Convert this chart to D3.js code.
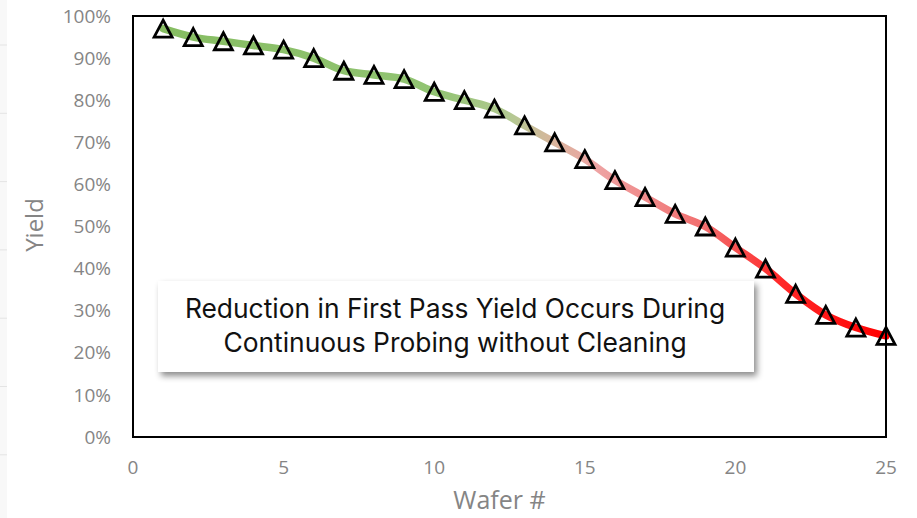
<!DOCTYPE html>
<html lang="en">
  <head>
    <meta charset="utf-8">
    <title>Yield vs Wafer</title>
    <script type="text/javascript" src="https://cdn.jsdelivr.net/npm/d3@7"></script>
    <style>
      body { margin: 0; background: #fff; }
    </style>
  </head>
  <body>
    <script type="text/javascript">
    // data
    var wafers = d3.range(1, 26);
    var yieldPct = [97, 95, 94, 93, 92, 90, 87, 86, 85, 82, 80, 78, 74, 70,
                    66, 61, 57, 53, 50, 45, 40, 34, 29, 26, 24];
    var xTicks = [0, 5, 10, 15, 20, 25];
    var yTicks = [0, 10, 20, 30, 40, 50, 60, 70, 80, 90, 100];
    var noteLines = ["Reduction in First Pass Yield Occurs During",
                     "Continuous Probing without Cleaning"];

    var dataset = wafers.map(function(w, i) {
      return { wafer: w, yield: yieldPct[i] };
    });

    var w = 917;
    var h = 518;

    // plot area (don't call it "top", window.top is read-only)
    var plotLeft = 133, plotRight = 886, plotTop = 16, plotBottom = 437;

    var svg = d3.select("body")
                .append("svg")
                .attr("width", w)
                .attr("height", h);

    var defs = svg.append("defs");

    // faint strip at the far left (edge of the neighbouring sheet)
    svg.append("rect")
       .attr("x", 0).attr("y", 0)
       .attr("width", 7).attr("height", h)
       .attr("fill", "#f8f8f8");
    svg.selectAll("line.edge")
       .data(d3.range(45, 460, 68.3))
       .enter()
       .append("line")
       .attr("class", "edge")
       .attr("x1", 0).attr("x2", 7)
       .attr("y1", function(d) { return d; })
       .attr("y2", function(d) { return d; })
       .attr("stroke", "#e4e4e4");

    var xScale = d3.scaleLinear()
                   .domain([0, 25])
                   .range([plotLeft, plotRight]);
    var yScale = d3.scaleLinear()
                   .domain([0, 100])
                   .range([plotBottom, plotTop]);

    // y tick labels
    svg.selectAll("text.ytick")
       .data(yTicks)
       .enter()
       .append("text")
       .attr("class", "ytick")
       .attr("x", plotLeft - 22)
       .attr("y", function(d) { return yScale(d); })
       .attr("dy", "0.35em")
       .attr("text-anchor", "end")
       .attr("font-family", "'Open Sans', sans-serif")
       .attr("font-size", 19)
       .attr("fill", "#858585")
       .text(function(d) { return d + "%"; });

    // x tick labels
    svg.selectAll("text.xtick")
       .data(xTicks)
       .enter()
       .append("text")
       .attr("class", "xtick")
       .attr("x", function(d) { return xScale(d); })
       .attr("y", plotBottom + 30)
       .attr("dy", "0.35em")
       .attr("text-anchor", "middle")
       .attr("font-family", "'Open Sans', sans-serif")
       .attr("font-size", 19)
       .attr("fill", "#858585")
       .text(function(d) { return d; });

    // axis titles
    svg.append("text")
       .attr("x", (plotLeft + plotRight) / 2 - 10)
       .attr("y", 500)
       .attr("dy", "0.35em")
       .attr("text-anchor", "middle")
       .attr("font-family", "'Open Sans', sans-serif")
       .attr("font-size", 25)
       .attr("fill", "#858585")
       .text("Wafer #");

    svg.append("text")
       .attr("transform", "translate(35,225) rotate(-90)")
       .attr("dy", "0.35em")
       .attr("text-anchor", "middle")
       .attr("font-family", "'Open Sans', sans-serif")
       .attr("font-size", 24)
       .attr("fill", "#858585")
       .text("Yield");

    // gradient for the line: green -> pink -> red
    var grad = defs.append("linearGradient")
                   .attr("id", "lineGrad")
                   .attr("gradientUnits", "userSpaceOnUse")
                   .attr("x1", xScale(1)).attr("y1", 0)
                   .attr("x2", xScale(25)).attr("y2", 0);
    [[0, "#86bd62"], [0.38, "#92c473"], [0.48, "#b3c992"], [0.54, "#d8b59d"],
     [0.6, "#eea3a3"], [0.75, "#f26d6d"], [0.85, "#ff2a2a"], [1, "#ff0000"]]
      .forEach(function(s) {
        grad.append("stop").attr("offset", s[0]).attr("stop-color", s[1]);
      });

    var line = d3.line()
                 .x(function(d) { return xScale(d.wafer); })
                 .y(function(d) { return yScale(d.yield); })
                 .curve(d3.curveCatmullRom.alpha(0.5));

    svg.append("path")
       .datum(dataset)
       .attr("d", line)
       .attr("fill", "none")
       .attr("stroke", "url(#lineGrad)")
       .attr("stroke-width", 7.5)
       .attr("stroke-linecap", "round");

    // plot frame
    svg.append("rect")
       .attr("x", plotLeft).attr("y", plotTop)
       .attr("width", plotRight - plotLeft).attr("height", plotBottom - plotTop)
       .attr("fill", "none")
       .attr("stroke", "#000")
       .attr("stroke-width", 2);

    // triangle markers, centred on the data point
    var triW = 18, triH = 17;
    svg.selectAll("path.tri")
       .data(dataset)
       .enter()
       .append("path")
       .attr("class", "tri")
       .attr("d", function(d) {
         var cx = xScale(d.wafer), cy = yScale(d.yield);
         return "M" + cx + "," + (cy - triH / 2) +
                "L" + (cx + triW / 2) + "," + (cy + triH / 2) +
                "L" + (cx - triW / 2) + "," + (cy + triH / 2) + "Z";
       })
       .attr("fill", "none")
       .attr("stroke", "#000")
       .attr("stroke-width", 2.8)
       .attr("stroke-linejoin", "miter");

    // annotation box with drop shadow
    var shadow = defs.append("filter")
                     .attr("id", "shadow")
                     .attr("x", "-10%").attr("y", "-20%")
                     .attr("width", "130%").attr("height", "150%");
    shadow.append("feDropShadow")
          .attr("dx", 3).attr("dy", 4)
          .attr("stdDeviation", 3)
          .attr("flood-color", "#000")
          .attr("flood-opacity", 0.45);

    var box = { x: 158, y: 281, w: 596, h: 91 };
    svg.append("rect")
       .attr("x", box.x).attr("y", box.y)
       .attr("width", box.w).attr("height", box.h)
       .attr("fill", "#fff")
       .attr("filter", "url(#shadow)");

    svg.selectAll("text.note")
       .data(noteLines)
       .enter()
       .append("text")
       .attr("class", "note")
       .attr("x", box.x + box.w / 2 - 1)
       .attr("y", function(d, i) { return 318 + i * 34; })
       .attr("text-anchor", "middle")
       .attr("font-family", "Inter, 'Noto Sans', sans-serif")
       .attr("font-size", 26.4)
       .attr("fill", "#111")
       .text(function(d) { return d; });
    </script>
  </body>
</html>
